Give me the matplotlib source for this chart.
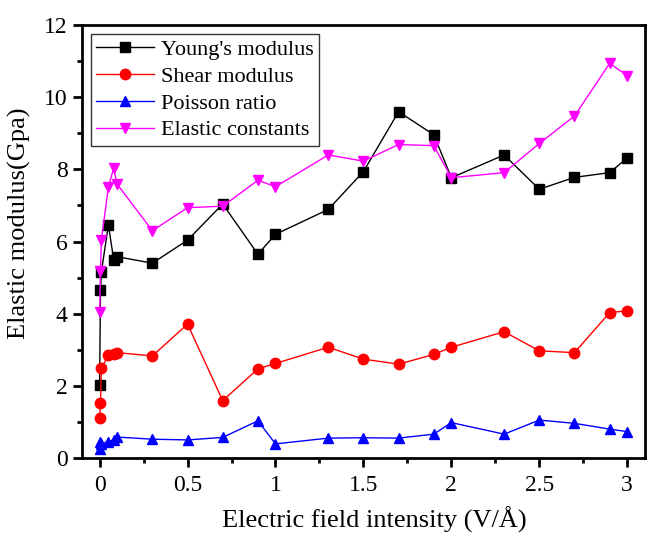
import matplotlib
matplotlib.use('Agg')
import matplotlib.pyplot as plt
from matplotlib.ticker import MultipleLocator

plt.rcParams['font.family'] = ['Liberation Serif', 'DejaVu Serif']

# field intensity (V/A)
field = [0, 0.005, 0.01, 0.05, 0.08, 0.1, 0.3, 0.5, 0.7, 0.9, 1.0,
         1.3, 1.5, 1.7, 1.9, 2.0, 2.3, 2.5, 2.7, 2.9, 3.0]

young = [2.02, 4.67, 5.16, 6.46, 5.50, 5.58, 5.40, 6.04, 7.04, 5.65, 6.20,
         6.89, 7.94, 9.60, 8.96, 7.77, 8.40, 7.45, 7.78, 7.91, 8.32]
shear = [1.10, 1.52, 2.49, 2.85, 2.88, 2.92, 2.83, 3.71, 1.59, 2.47, 2.62,
         3.07, 2.74, 2.60, 2.87, 3.07, 3.50, 2.97, 2.92, 4.03, 4.08]
poisson = [0.45, 0.25, 0.40, 0.45, 0.50, 0.58, 0.52, 0.50, 0.57, 1.03, 0.39,
           0.55, 0.56, 0.55, 0.66, 0.98, 0.66, 1.05, 0.96, 0.80, 0.73]
elastic = [4.05, 5.19, 6.04, 7.52, 8.03, 7.59, 6.30, 6.94, 6.98, 7.70, 7.52,
           8.40, 8.23, 8.69, 8.66, 7.77, 7.91, 8.72, 9.48, 10.94, 10.60]

fig = plt.figure(figsize=(6.52, 5.35), dpi=100)
ax = fig.add_axes([0.1258, 0.144, 0.8632, 0.809])

ms = 7.5
ax.plot(field, young, color='black', lw=1, marker='s', ms=ms, label="Young's modulus")
ax.plot(field, shear, color='red', lw=1, marker='o', ms=ms, label='Shear modulus')
ax.plot(field, poisson, color='blue', lw=1, marker='^', ms=ms, label='Poisson ratio')
ax.plot(field, elastic, color='magenta', lw=1, marker='v', ms=ms, label='Elastic constants')

ax.set_xlim(-0.1, 3.1)
ax.set_ylim(0, 12)
ax.xaxis.set_major_locator(MultipleLocator(0.5))
ax.xaxis.set_minor_locator(MultipleLocator(0.25))
ax.yaxis.set_major_locator(MultipleLocator(2))
ax.yaxis.set_minor_locator(MultipleLocator(1))
ax.set_xticks([0, 0.5, 1, 1.5, 2, 2.5, 3])
ax.set_xticklabels(['0', '0.5', '1', '1.5', '2', '2.5', '3'])

for s in ax.spines.values():
    s.set_linewidth(2)
ax.tick_params(which='major', direction='out', length=6.5, width=2, labelsize=17)
ax.tick_params(which='minor', direction='out', length=3.5, width=2)
ax.tick_params(axis='x', which='major', pad=6)
ax.tick_params(axis='y', which='major', pad=4)

ax.set_xlabel('Electric field intensity (V/Å)', fontsize=19)
ax.set_ylabel('Elastic modulus(Gpa)', fontsize=19)
ax.xaxis.set_label_coords(0.52, -0.113)
ax.yaxis.set_label_coords(-0.09, 0.543)

leg = ax.legend(loc='upper left', fontsize=16, frameon=True, fancybox=False,
                edgecolor='black', handlelength=2.6, borderpad=0.25,
                labelspacing=0.28, handletextpad=0.3, borderaxespad=0.4)
leg.get_frame().set_linewidth(1)

fig.savefig('out.png', dpi=100)
